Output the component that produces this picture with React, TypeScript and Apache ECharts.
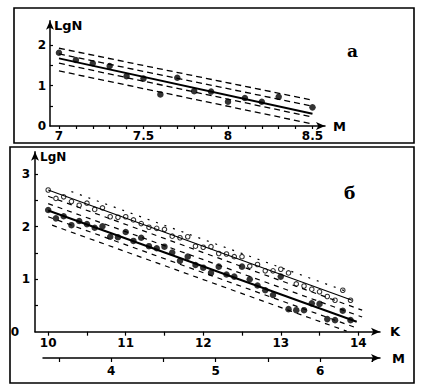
import React, { useEffect, useRef } from "react";
import * as echarts from "echarts";

// ---------- Panel а (magnitude M vs LgN) ----------
const aM = [7.0, 7.1, 7.2, 7.3, 7.4, 7.5, 7.6, 7.7, 7.8, 7.9, 8.0, 8.1, 8.2, 8.3, 8.5];
const aLgN = [1.81, 1.63, 1.55, 1.48, 1.23, 1.17, 0.78, 1.19, 0.86, 0.85, 0.6, 0.69, 0.6, 0.72, 0.46];
const aLineM = [7.0, 8.5];
const aFit = [1.67, 0.3];
const aUpperOuter = [1.92, 0.64];
const aUpperInner = [1.78, 0.49];
const aLowerInner = [1.55, 0.22];
const aLowerOuter = [1.36, 0.05];
const aTickValues = [7.0, 7.1, 7.2, 7.3, 7.4, 7.5, 7.6, 7.7, 7.8, 7.9, 8.0, 8.1, 8.2, 8.3, 8.4, 8.5];
const aLabelValues = [7, 7.5, 8, 8.5];
const aYLabels = [0, 1, 2];
const aYTicks = [0.5, 1, 1.5, 2];

// ---------- Panel б (energy class K vs LgN) ----------
const bK = [
  10.0, 10.1, 10.2, 10.3, 10.4, 10.5, 10.6, 10.7, 10.8, 10.9,
  11.0, 11.1, 11.2, 11.3, 11.4, 11.5, 11.6, 11.7, 11.8, 11.9,
  12.0, 12.1, 12.2, 12.3, 12.4, 12.5, 12.6, 12.7, 12.8, 12.9,
  13.0, 13.1, 13.2, 13.3, 13.4, 13.5, 13.6, 13.7, 13.8, 13.9,
];
const bOpen = [
  2.7, 2.54, 2.57, 2.48, 2.41, 2.45, 2.33, 2.36, 2.19, 2.18,
  2.19, 2.13, 2.06, 1.99, 1.97, 1.95, 1.82, 1.79, 1.81, 1.63,
  1.61, 1.62, 1.49, 1.48, 1.43, 1.43, 1.25, 1.28, 1.16, 1.16,
  1.19, 1.12, 0.91, 0.87, 0.81, 0.76, 0.67, 0.6, 0.79, 0.6,
];
const bFilled = [
  2.32, 2.16, 2.2, 2.03, 2.11, 2.05, 1.98, 2.01, 1.81, 1.8,
  1.9, 1.73, 1.79, 1.63, 1.59, 1.62, 1.51, 1.35, 1.43, 1.27,
  1.22, 1.12, 1.24, 1.09, 1.05, 1.24, 1.0, 0.88, 0.79, 0.7,
  1.05, 0.43, 0.41, 0.41, 0.54, 0.53, 0.24, 0.22, 0.4, 0.22,
];
const bOpenFitK = [10.0, 13.92];
const bOpenFit = [2.7, 0.6];
const bOpenDottedK = [10.3, 13.9];
const bOpenDotted = [2.67, 0.74];
const bOpenBelowK = [10.0, 14.05];
const bOpenBelow = [2.58, 0.41];
const bFilledFitK = [10.0, 13.98];
const bFilledFit = [2.31, 0.19];
const bFilledAboveK = [10.0, 14.05];
const bFilledAbove = [2.44, 0.28];
const bFilledBelowK = [10.0, 14.0];
const bFilledBelow = [2.19, 0.06];
const bFilledBelow2K = [10.05, 13.85];
const bFilledBelow2 = [2.03, 0.01];
const bKTicks = [10, 10.5, 11, 11.5, 12, 12.5, 13, 13.5, 14];
const bKLabels = [10, 11, 12, 13, 14];
const bYLabels = [0, 1, 2, 3];
const bYTicks = [0.5, 1, 1.5, 2, 2.5, 3];
const mTicks = [3.5, 4, 4.5, 5, 5.5, 6, 6.5];
const mLabels = [4, 5, 6];

const zip = (xs: number[], ys: number[]) => xs.map((x, i) => [x, ys[i]]);

const FONT = "DejaVu Sans";
const black = "#000";
const labelStyle = { color: black, fontFamily: FONT, fontWeight: "bold" as const, fontSize: 12 };

function lineSeries(xi: number, data: number[][], width: number, type: any) {
  return {
    type: "line",
    xAxisIndex: xi,
    yAxisIndex: xi,
    data,
    symbol: "none",
    silent: true,
    lineStyle: { color: black, width, type },
  };
}

export default function App() {
  const ref = useRef<HTMLDivElement>(null);
  useEffect(() => {
    if (!ref.current) return;
    const chart = echarts.init(ref.current, null, { renderer: "svg" });
    const axisLine = {
      show: true,
      symbol: ["none", "arrow"],
      symbolSize: [6, 9],
      lineStyle: { color: black, width: 1.5 },
    };
    const option: any = {
      animation: false,
      backgroundColor: "#fff",
      title: [
        {
          text: "а",
          left: 347,
          top: 42,
          padding: 0,
          textStyle: { fontFamily: "DejaVu Serif", fontWeight: "bold", fontSize: 17, color: black },
        },
        {
          text: "б",
          left: 344,
          top: 184,
          padding: 0,
          textStyle: { fontFamily: "DejaVu Serif", fontWeight: "bold", fontSize: 17, color: black },
        },
      ],
      grid: [
        { left: 50, top: 20.7, width: 275, height: 105.3, outerBoundsMode: "none", containLabel: false },
        { left: 35, top: 151.7, width: 345, height: 180, outerBoundsMode: "none", containLabel: false },
        { left: 43, top: 357, width: 337, height: 1, outerBoundsMode: "none", containLabel: false },
      ],
      xAxis: [
        {
          gridIndex: 0,
          type: "value",
          min: 6.947,
          max: 8.574,
          name: "M",
          nameGap: 8,
          nameTextStyle: { ...labelStyle, fontSize: 13 },
          axisLine,
          axisTick: { show: true, customValues: aTickValues, length: 3, lineStyle: { color: black, width: 1.2 } },
          axisLabel: { ...labelStyle, customValues: aLabelValues, margin: 4 },
          splitLine: { show: false },
        },
        {
          gridIndex: 1,
          type: "value",
          min: 9.83,
          max: 14.28,
          name: "K",
          nameGap: 10,
          nameTextStyle: { ...labelStyle, fontSize: 13, padding: [10, 0, 0, 0] },
          axisLine,
          axisTick: { show: true, customValues: bKTicks, length: 4, lineStyle: { color: black, width: 1.2 } },
          axisLabel: { ...labelStyle, customValues: bKLabels, margin: 5 },
          splitLine: { show: false },
        },
        {
          gridIndex: 2,
          type: "value",
          min: 3.348,
          max: 6.572,
          name: "M",
          nameGap: 12,
          nameTextStyle: { ...labelStyle, fontSize: 13 },
          axisLine,
          axisTick: { show: true, customValues: mTicks, length: 4, lineStyle: { color: black, width: 1.2 } },
          axisLabel: { ...labelStyle, customValues: mLabels, margin: 7 },
          splitLine: { show: false },
        },
      ],
      yAxis: [
        {
          gridIndex: 0,
          type: "value",
          min: 0,
          max: 2.6,
          name: "LgN",
          nameGap: -5,
          nameTextStyle: { ...labelStyle, fontSize: 13, align: "left", verticalAlign: "middle", padding: [0, 0, 0, 4] },
          axisLine,
          axisTick: { show: true, inside: true, customValues: aYTicks, length: 3, lineStyle: { color: black, width: 1.2 } },
          axisLabel: { ...labelStyle, customValues: aYLabels, margin: 4 },
          splitLine: { show: false },
        },
        {
          gridIndex: 1,
          type: "value",
          min: 0,
          max: 3.43,
          name: "LgN",
          nameGap: -5,
          nameTextStyle: { ...labelStyle, align: "left", verticalAlign: "middle", padding: [0, 0, 0, 5] },
          axisLine,
          axisTick: { show: true, inside: true, customValues: bYTicks, length: 3, lineStyle: { color: black, width: 1.2 } },
          axisLabel: {
            ...labelStyle,
            customValues: bYLabels,
            margin: 5,
            formatter: (v: number) => (v === 0 ? "{z|0}" : String(v)),
            rich: { z: { ...labelStyle, padding: [0, 11, 0, 0] } },
          },
          splitLine: { show: false },
        },
        { gridIndex: 2, type: "value", min: 0, max: 1, show: false },
      ],
      series: [
        // panel а
        lineSeries(0, zip(aLineM, aUpperOuter), 1.3, [6, 4]),
        lineSeries(0, zip(aLineM, aUpperInner), 1.3, [6, 4]),
        lineSeries(0, zip(aLineM, aLowerInner), 1.3, [6, 4]),
        lineSeries(0, zip(aLineM, aLowerOuter), 1.3, [6, 4]),
        lineSeries(0, zip(aLineM, aFit), 2, "solid"),
        {
          type: "scatter",
          xAxisIndex: 0,
          yAxisIndex: 0,
          data: zip(aM, aLgN),
          symbol: "circle",
          symbolSize: 6.5,
          itemStyle: { color: black },
        },
        // panel б
        lineSeries(1, zip(bOpenDottedK, bOpenDotted), 1.2, [2, 7]),
        lineSeries(1, zip(bOpenBelowK, bOpenBelow), 1.2, [5, 5]),
        lineSeries(1, zip(bFilledAboveK, bFilledAbove), 1.2, [5, 5]),
        lineSeries(1, zip(bFilledBelowK, bFilledBelow), 1.2, [5, 5]),
        lineSeries(1, zip(bFilledBelow2K, bFilledBelow2), 1.2, [5, 5]),
        lineSeries(1, zip(bOpenFitK, bOpenFit), 1.1, "solid"),
        lineSeries(1, zip(bFilledFitK, bFilledFit), 2, "solid"),
        {
          type: "scatter",
          xAxisIndex: 1,
          yAxisIndex: 1,
          data: zip(bK, bOpen),
          symbol: "circle",
          symbolSize: 4.5,
          itemStyle: { color: "#fff", borderColor: black, borderWidth: 1.1 },
        },
        {
          type: "scatter",
          xAxisIndex: 1,
          yAxisIndex: 1,
          data: zip(bK, bFilled),
          symbol: "circle",
          symbolSize: 6.5,
          itemStyle: { color: black },
        },
      ],
      graphic: [
        {
          type: "rect",
          silent: true,
          shape: { x: 14, y: 8, width: 400, height: 135 },
          style: { fill: "none", stroke: black, lineWidth: 1.6 },
        },
        {
          type: "rect",
          silent: true,
          shape: { x: 10, y: 147, width: 404, height: 236 },
          style: { fill: "none", stroke: black, lineWidth: 1.6 },
        },
      ],
    };
    chart.setOption(option);
    return () => chart.dispose();
  }, []);
  return (
    <div
      ref={ref}
      style={{ position: "fixed", left: 0, top: 0, width: 424, height: 388, background: "#fff" }}
    />
  );
}
